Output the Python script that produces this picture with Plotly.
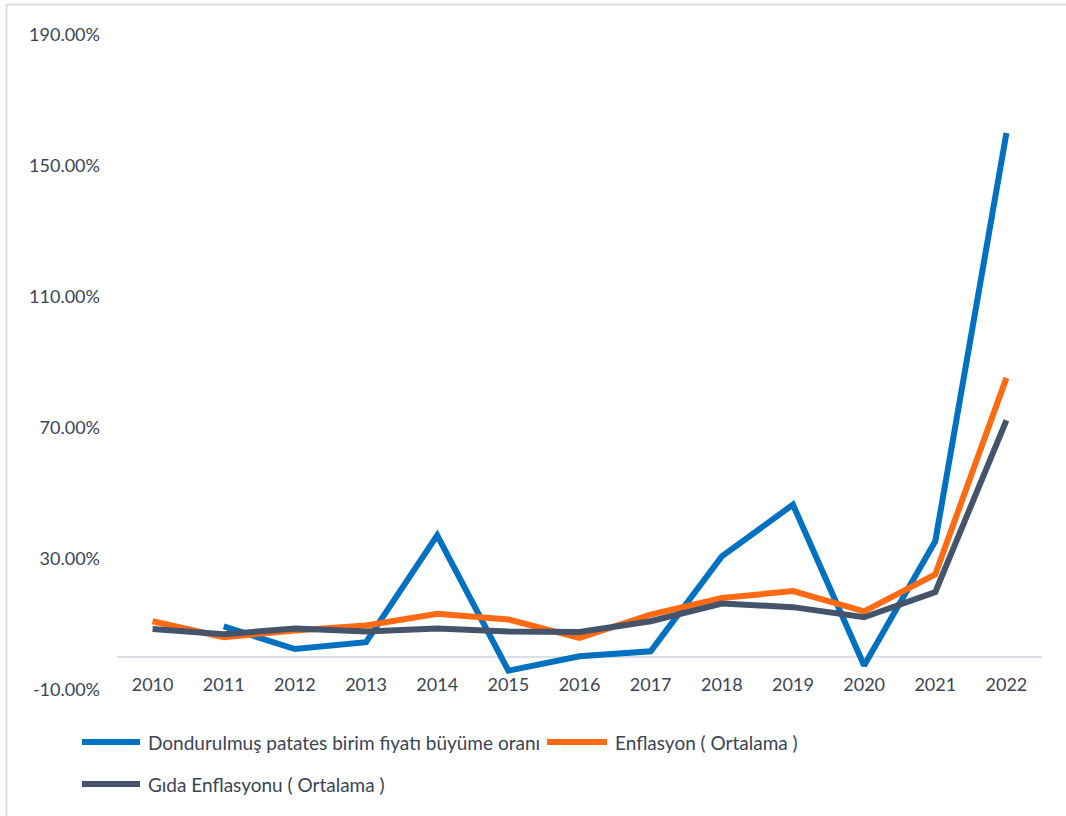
import plotly.graph_objects as go

years = ["2010", "2011", "2012", "2013", "2014", "2015", "2016",
         "2017", "2018", "2019", "2020", "2021", "2022"]
patates = [None, 9.4, 2.5, 4.6, 37.2, -4.1, 0.3, 1.8, 30.8, 46.6, -2.5, 35.4, 160.1]
enflasyon = [11.0, 6.1, 8.2, 9.7, 13.3, 11.5, 5.9, 13.0, 18.1, 20.2, 14.0, 25.3, 85.3]
gida = [8.6, 7.0, 8.8, 7.9, 8.8, 7.9, 7.7, 11.0, 16.4, 15.3, 12.2, 19.9, 72.3]
names = ["Dondurulmuş patates birim fiyatı büyüme oranı",
         "Enflasyon ( Ortalama )",
         "Gıda Enflasyonu ( Ortalama )"]
colors = ["#0070C0", "#FF6A13", "#44546A"]
ytick_vals = [-10, 30, 70, 110, 150, 190]
ytick_text = ["-10.00%", "30.00%", "70.00%", "110.00%", "150.00%", "190.00%"]

FONT = "Lato"
TXT = "#3B4454"

fig = go.Figure()
for vals, nm, col in zip([patates, enflasyon, gida], names, colors):
    fig.add_trace(go.Scatter(x=years, y=vals, name=nm, mode="lines",
                             line=dict(color=col, width=6),
                             connectgaps=False, showlegend=False))

L, R, T, B = 117, 1042, 35, 690
W, H = R - L, B - T

def px(x):
    return (x - L) / W

def py(y):
    return (B - y) / H

shapes = [
    dict(type="rect", xref="paper", yref="paper",
         x0=px(6.5), x1=px(1075), y0=py(825), y1=py(4.5),
         line=dict(color="#D9DEE8", width=2), fillcolor="rgba(0,0,0,0)", layer="below"),
]
annotations = []
legend_pos = [(82, 140, 146, 742), (547, 607, 613, 742), (82, 140, 146, 784)]
for (x0, x1, tx, yy), nm, col in zip(legend_pos, names, colors):
    shapes.append(dict(type="line", xref="paper", yref="paper",
                       x0=px(x0), x1=px(x1), y0=py(yy), y1=py(yy),
                       line=dict(color=col, width=6)))
    annotations.append(dict(xref="paper", yref="paper", x=px(tx), y=py(yy),
                            xanchor="left", yanchor="middle", showarrow=False,
                            text=nm, font=dict(family=FONT, size=19, color=TXT)))

fig.update_layout(
    width=1066, height=816,
    margin=dict(l=L, r=1066 - R, t=T, b=816 - B),
    paper_bgcolor="white", plot_bgcolor="white",
    font=dict(family=FONT, size=18, color=TXT),
    shapes=shapes, annotations=annotations,
    xaxis=dict(type="category", range=[-0.5, 12.5], showgrid=False, showline=False,
               zeroline=False, ticks="", anchor="free", position=py(672),
               tickfont=dict(family=FONT, size=18, color=TXT)),
    yaxis=dict(range=[-10, 190], tickvals=ytick_vals, ticktext=ytick_text,
               showgrid=False, showline=False, zeroline=True, zerolinecolor="#D9DEE8",
               zerolinewidth=2, ticks="", ticklabelstandoff=16,
               tickfont=dict(family=FONT, size=18, color=TXT)),
)

fig.write_html("out.html")
